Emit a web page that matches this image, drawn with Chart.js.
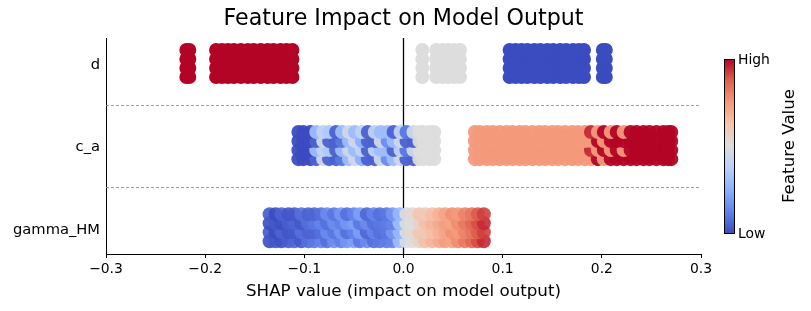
<!DOCTYPE html>
<html><head><meta charset="utf-8">
<script src="https://cdn.jsdelivr.net/npm/chart.js@4"></script>
<style>html,body{margin:0;padding:0;background:#fff}#wrap{width:811px;height:311px;position:relative}canvas{display:block}</style>
</head><body><div id="wrap"><canvas id="c" width="811" height="311" style="width:811px;height:311px"></canvas></div>
<script>
// ---- data ----
const features = ['gamma_HM', 'c_a', 'd'];          // y = 0, 1, 2
const xTicks = [-0.3, -0.2, -0.1, 0, 0.1, 0.2, 0.3];
const separators = [0.5, 1.5];
const jitter = [-0.165, -0.055, 0.055, 0.165];     // beeswarm row offsets

// d  (SHAP values and normalised feature values)
const dX = [-0.219, -0.216, -0.189, -0.183, -0.177, -0.171, -0.164, -0.157, -0.151, -0.144, -0.137, -0.131, -0.124, -0.118, -0.112,
            0.019, 0.033, 0.039, 0.045, 0.051, 0.057,
            0.107, 0.113, 0.119, 0.125, 0.132, 0.138, 0.145, 0.151, 0.158, 0.164, 0.171, 0.177, 0.182, 0.201, 0.204];
const dV = [1, 1, 1, 1, 1, 1, 1, 1, 1, 1, 1, 1, 1, 1, 1,
            0.5, 0.5, 0.5, 0.5, 0.5, 0.5,
            0, 0, 0, 0, 0, 0, 0, 0, 0, 0, 0, 0, 0, 0, 0];

// c_a
const caX = [-0.106, -0.101, -0.094, -0.088, -0.081, -0.075, -0.068, -0.062, -0.055, -0.049, -0.042, -0.036, -0.029, -0.023, -0.016, -0.010, -0.003, 0.003, 0.010, 0.016, 0.020, 0.026, 0.031,
             0.072, 0.077, 0.084, 0.090, 0.097, 0.104, 0.110, 0.117, 0.123, 0.130, 0.137, 0.143, 0.150, 0.156, 0.163, 0.170, 0.176, 0.183, 0.189, 0.196, 0.202, 0.209, 0.215, 0.222, 0.229, 0.235, 0.242, 0.248, 0.255, 0.262, 0.267, 0.270];
const caV = [0, 0, 0, 0.05, 0.45, 0.05, 0.05, 0.1, 0.3, 0.45, 0.25, 0.05, 0.05, 0.45, 0.15, 0.3, 0.45, 0.05, 0.05, 0.5, 0.5, 0.5, 0.5,
             0.75, 0.75, 0.75, 0.75, 0.75, 0.75, 0.75, 0.75, 0.75, 0.75, 0.75, 0.75, 0.75, 0.75, 0.75, 0.75, 0.75, 0.75, 0.75, 1, 0.75, 1, 1, 1, 1, 1, 1, 1, 1, 1, 1, 1];
const caV2 = [0, 0, 0, 0.3, 0.4, 0.35, 0.05, 0.3, 0.45, 0.3, 0.4, 0.05, 0.4, 0.3, 0.3, 0.05, 0.4, 0.1, 0.45, 0.5, 0.5, 0.5, 0.5,
              0.75, 0.75, 0.75, 0.75, 0.75, 0.75, 0.75, 0.75, 0.75, 0.75, 0.75, 0.75, 0.75, 0.75, 0.75, 0.75, 0.75, 0.75, 0.95, 0.75, 1, 0.75, 1, 0.75, 1, 1, 1, 1, 1, 1, 1, 1];

// gamma_HM
const gX = [-0.135, -0.129, -0.123, -0.116, -0.110, -0.103, -0.096, -0.090, -0.083, -0.077, -0.070, -0.063, -0.057, -0.050, -0.044, -0.037, -0.030,
            -0.024, -0.017, -0.011, -0.004, 0.003, 0.009, 0.016, 0.022, 0.029, 0.036, 0.042, 0.049, 0.055, 0.062, 0.069, 0.075, 0.081];
const gV = [0.0, 0.03, 0.01, 0.04, 0.06, 0.03, 0.08, 0.1, 0.13, 0.08, 0.16, 0.12, 0.18, 0.2, 0.1, 0.15, 0.08,
            0.1, 0.11, 0.13, 0.3, 0.5, 0.5, 0.56, 0.64, 0.67, 0.7, 0.74, 0.72, 0.78, 0.82, 0.86, 0.9, 0.95];
const gV2 = [0.03, 0.0, 0.05, 0.02, 0.03, 0.08, 0.05, 0.06, 0.08, 0.15, 0.1, 0.18, 0.08, 0.13, 0.2, 0.06, 0.13,
             0.08, 0.1, 0.18, 0.28, 0.5, 0.53, 0.62, 0.6, 0.64, 0.68, 0.72, 0.77, 0.75, 0.8, 0.83, 0.88, 0.92];

// ---- colormap (matplotlib coolwarm) ----
const CW = [[59,76,192],[98,130,234],[141,176,254],[184,208,249],[221,221,221],[245,196,173],[244,154,123],[222,96,77],[180,4,38]];
function coolwarm(t, a) {
  t = Math.max(0, Math.min(1, t));
  const p = t * 8, i = Math.min(7, Math.floor(p)), f = p - i;
  const c = CW[i].map((v, k) => Math.round(v + (CW[i + 1][k] - v) * f));
  return `rgba(${c[0]},${c[1]},${c[2]},${a})`;
}
function build(row, xs, v1, v2, alpha) {
  const data = [], colors = [];
  jitter.forEach((j, li) => {
    const vs = (li % 2 === 0) ? v1 : v2;
    xs.forEach((x, i) => { data.push({ x: x, y: row + j }); colors.push(coolwarm(vs[i], alpha)); });
  });
  return { data, colors };
}
const rows = [build(2, dX, dV, dV, 1), build(1, caX, caV, caV2, 0.95), build(0, gX, gV, gV2, 0.9)];

const overlay = {
  id: 'overlay',
  beforeDatasetsDraw(chart) {
    const { ctx, chartArea: a, scales: { x, y } } = chart;
    ctx.save();
    ctx.strokeStyle = '#888'; ctx.lineWidth = 0.8; ctx.setLineDash([3, 2]);
    separators.forEach(s => {
      const py = Math.round(y.getPixelForValue(s)) + 0.5;
      ctx.beginPath(); ctx.moveTo(a.left, py); ctx.lineTo(a.right, py); ctx.stroke();
    });
    ctx.setLineDash([]); ctx.strokeStyle = '#000'; ctx.lineWidth = 1.3;
    const px = x.getPixelForValue(0);
    ctx.beginPath(); ctx.moveTo(px, a.top); ctx.lineTo(px, a.bottom); ctx.stroke();
    ctx.restore();
  },
  afterDraw(chart) {
    const { ctx, chartArea: a } = chart;
    ctx.save();
    // title centred over the plot area
    ctx.fillStyle = '#000'; ctx.textAlign = 'center'; ctx.textBaseline = 'middle';
    ctx.font = '22.2px "DejaVu Sans"';
    ctx.fillText('Feature Impact on Model Output', (a.left + a.right) / 2, 19);
    // colour bar
    const L = 724, T = 59, W = 10, H = 174;
    const g = ctx.createLinearGradient(0, T + H, 0, T);
    CW.forEach((c, i) => g.addColorStop(i / 8, `rgb(${c[0]},${c[1]},${c[2]})`));
    ctx.fillStyle = g; ctx.fillRect(L, T, W, H);
    ctx.strokeStyle = '#000'; ctx.lineWidth = 1; ctx.strokeRect(L + 0.5, T + 0.5, W, H);
    ctx.fillStyle = '#000'; ctx.font = '13.9px "DejaVu Sans"'; ctx.textBaseline = 'middle'; ctx.textAlign = 'left';
    ctx.fillText('High', 738, T + 1);
    ctx.fillText('Low', 738, T + H + 1);
    ctx.translate(790, T + H / 2); ctx.rotate(-Math.PI / 2);
    ctx.textAlign = 'center'; ctx.font = '16.7px "DejaVu Sans"';
    ctx.fillText('Feature Value', 0, 0);
    ctx.restore();
  }
};

Chart.defaults.font.family = '"DejaVu Sans", sans-serif';
Chart.defaults.color = '#000';
new Chart(document.getElementById('c'), {
  type: 'scatter',
  data: {
    datasets: rows.map((r, i) => ({
      label: features[2 - i], data: r.data, pointBackgroundColor: r.colors,
      pointRadius: 7, pointBorderWidth: 0, pointHoverRadius: 7, showLine: false
    }))
  },
  options: {
    responsive: false, animation: false, events: [],
    layout: { padding: { left: 0, right: 110, top: 38, bottom: 0 } },
    plugins: { legend: { display: false }, tooltip: { enabled: false }, title: { display: false } },
    scales: {
      x: {
        type: 'linear', min: -0.3, max: 0.3,
        afterBuildTicks: s => { s.ticks = xTicks.map(v => ({ value: v })); },
        ticks: { callback: v => v === 0 ? '0.0' : (v < 0 ? '\u2212' : '') + Math.abs(v).toFixed(1),
                 font: { size: 13.9 }, color: '#000', padding: 3, maxRotation: 0 },
        grid: { display: true, drawOnChartArea: false, drawTicks: true, tickLength: 4, color: '#000', tickColor: '#000' },
        border: { display: true, color: '#000', width: 1 },
        title: { display: true, text: 'SHAP value (impact on model output)', color: '#000',
                 font: { size: 16.7 }, padding: { top: 4, bottom: 9 } },
        afterFit: s => { s.height = 57; }
      },
      y: {
        type: 'linear', min: -0.32, max: 2.31,
        afterBuildTicks: s => { s.ticks = [0, 1, 2].map(v => ({ value: v })); },
        ticks: { callback: v => features[Math.round(v)], font: { size: 14.7 }, color: '#000', padding: 6, labelOffset: 2 },
        grid: { display: false, drawTicks: false },
        border: { display: true, color: '#000', width: 1 },
        afterFit: s => { s.width = 106; }
      }
    }
  },
  plugins: [overlay]
});
</script>
</body></html>
